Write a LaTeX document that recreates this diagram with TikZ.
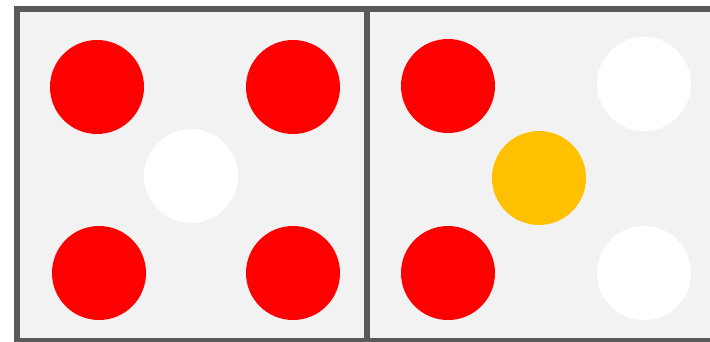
\documentclass[tikz,border=0pt]{standalone}
\usepackage{xcolor}
\usepackage{tikz}
\usetikzlibrary{positioning}
\definecolor{pzBack}{HTML}{F2F2F2}
\definecolor{pzEdge}{HTML}{595959}
\definecolor{pzRed}{HTML}{FF0000}
\definecolor{pzGold}{HTML}{FFC000}
\definecolor{pzWhite}{HTML}{FFFFFF}
\tikzset{
  panel/.style={
    draw=pzEdge, fill=pzBack, line width=6pt, inner sep=0pt, outer sep=0pt
  },
  dot/.style={circle, inner sep=0pt, minimum size=94pt, draw=none},
  reddot/.style={dot, fill=pzRed},
  golddot/.style={dot, fill=pzGold},
  whitedot/.style={dot, fill=pzWhite}
}

\begin{document}
\begin{tikzpicture}[x=1pt, y=-1pt]
  \useasboundingbox (0,0) rectangle (710,342);
  \clip (0,0) rectangle (710,342);
  % two panels
  \node[panel, minimum width=350pt, minimum height=332pt, anchor=north west]
    (leftpanel) at (17,9) {};
  \node[panel, minimum width=346pt, minimum height=332pt, anchor=north west]
    (rightpanel) at (367,9) {};
  % left panel dots
  \foreach \i/\x/\y/\kind in {
    1/97/87/reddot,
    2/293/87/reddot,
    3/191/176/whitedot,
    4/99/273/reddot,
    5/293/273/reddot}{
    \node[\kind] (l\i) at (\x,\y) {};
  }
  % right panel dots
  \foreach \i/\x/\y/\kind in {
    1/448/86/reddot,
    2/644/84/whitedot,
    3/539/178/golddot,
    4/448/273/reddot,
    5/644/273/whitedot}{
    \node[\kind] (r\i) at (\x,\y) {};
  }
\end{tikzpicture}
\end{document}
